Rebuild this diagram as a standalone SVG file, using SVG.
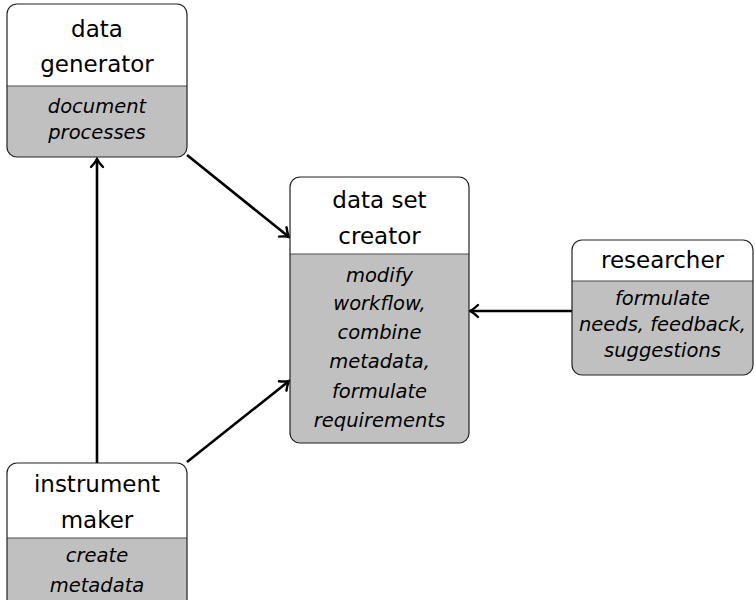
<svg xmlns="http://www.w3.org/2000/svg" width="755" height="600" viewBox="0 0 755 600">
<style>
.bg{fill:#ffffff;stroke:none}
.body{fill:#c0c0c0;stroke:none}
.div{stroke:#4d4d4d;stroke-width:1.2;fill:none}
.outline{fill:none;stroke:#222;stroke-width:1.2}
.title{font-family:"DejaVu Sans",sans-serif;font-size:23px;fill:#000;text-anchor:middle}
.desc{font-family:"DejaVu Sans",sans-serif;font-style:italic;font-size:19.5px;fill:#000;text-anchor:middle}
.edge{stroke:#000;stroke-width:2.6;fill:none;marker-end:url(#arr)}
</style>
<defs>
<marker id="arr" markerUnits="userSpaceOnUse" markerWidth="16" markerHeight="16" refX="13" refY="8" orient="auto" overflow="visible">
<path d="M5,2 Q9,6 13,8 Q9,10 5,14" fill="none" stroke="#000" stroke-width="2.4" stroke-linecap="round"/>
</marker>
</defs>
<rect width="755" height="600" fill="#fff"/>
<g id="connectors">
<line class="edge" x1="187" y1="155" x2="289" y2="237"/>
<line class="edge" x1="187" y1="462" x2="289" y2="381"/>
<line class="edge" x1="97" y1="463" x2="97" y2="159"/>
<line class="edge" x1="572" y1="311" x2="470" y2="311"/>
</g>
<g id="data-generator">
<rect class="bg" x="7" y="4" width="180" height="153" rx="10"/>
<path class="body" d="M7,86 H187 V147 A10,10 0 0 1 177,157 H17 A10,10 0 0 1 7,147 Z"/>
<path class="div" d="M7,86 H187"/>
<rect class="outline" x="7" y="4" width="180" height="153" rx="10"/>
<text class="title" x="97" y="37">data</text>
<text class="title" x="97" y="72">generator</text>
<text class="desc" x="97" y="113">document</text>
<text class="desc" x="97" y="139">processes</text>
</g>
<g id="data-set-creator">
<rect class="bg" x="290" y="177" width="179" height="266" rx="10"/>
<path class="body" d="M290,254 H469 V433 A10,10 0 0 1 459,443 H300 A10,10 0 0 1 290,433 Z"/>
<path class="div" d="M290,254 H469"/>
<rect class="outline" x="290" y="177" width="179" height="266" rx="10"/>
<text class="title" x="379.5" y="208">data set</text>
<text class="title" x="379.5" y="244">creator</text>
<text class="desc" x="379.5" y="281.5">modify</text>
<text class="desc" x="379.5" y="310">workflow,</text>
<text class="desc" x="379.5" y="338.5">combine</text>
<text class="desc" x="379.5" y="367.5">metadata,</text>
<text class="desc" x="379.5" y="398">formulate</text>
<text class="desc" x="379.5" y="426.5">requirements</text>
</g>
<g id="researcher">
<rect class="bg" x="572" y="240" width="181" height="135" rx="10"/>
<path class="body" d="M572,281 H753 V365 A10,10 0 0 1 743,375 H582 A10,10 0 0 1 572,365 Z"/>
<path class="div" d="M572,281 H753"/>
<rect class="outline" x="572" y="240" width="181" height="135" rx="10"/>
<text class="title" x="662.5" y="268">researcher</text>
<text class="desc" x="662.5" y="305">formulate</text>
<text class="desc" x="662.5" y="331">needs, feedback,</text>
<text class="desc" x="662.5" y="357">suggestions</text>
</g>
<g id="instrument-maker">
<rect class="bg" x="7" y="463" width="180" height="150" rx="10"/>
<path class="body" d="M7,538 H187 V603 A10,10 0 0 1 177,613 H17 A10,10 0 0 1 7,603 Z"/>
<path class="div" d="M7,538 H187"/>
<rect class="outline" x="7" y="463" width="180" height="150" rx="10"/>
<text class="title" x="97" y="492">instrument</text>
<text class="title" x="97" y="528">maker</text>
<text class="desc" x="97" y="562">create</text>
<text class="desc" x="97" y="592">metadata</text>
</g>
</svg>
